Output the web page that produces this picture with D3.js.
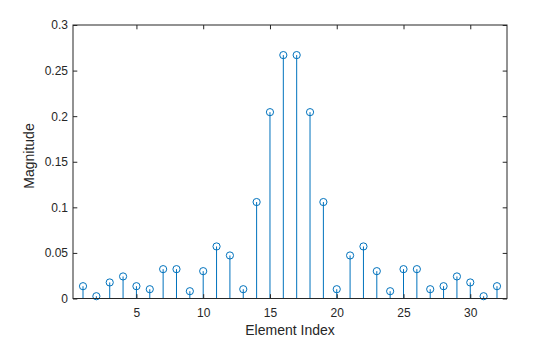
<!DOCTYPE html>
<html>
<head>
<meta charset="utf-8">
<script src="https://cdn.jsdelivr.net/npm/d3@7"></script>
<style>
  html, body { margin: 0; padding: 0; background: #fff; }
  svg { display: block; }
  text { font-family: "Liberation Sans", Arial, Helvetica, sans-serif; fill: #262626; }
</style>
</head>
<body>
<script>
// Element indices and their magnitudes
const indices = d3.range(1, 33);
const magnitudes = [
  0.0135, 0.0025, 0.0176, 0.0242, 0.0135, 0.0102, 0.0322, 0.0322,
  0.0080, 0.0300, 0.0571, 0.0472, 0.0102, 0.1058, 0.2044, 0.2670,
  0.2670, 0.2044, 0.1058, 0.0102, 0.0472, 0.0571, 0.0300, 0.0080,
  0.0322, 0.0322, 0.0102, 0.0135, 0.0242, 0.0176, 0.0025, 0.0135
];
const xTicks = [5, 10, 15, 20, 25, 30];
const yTicks = [0, 0.05, 0.1, 0.15, 0.2, 0.25, 0.3];
const xLabel = "Element Index";
const yLabel = "Magnitude";

const W = 560, H = 337;
const plotLeft = 73, plotRight = 507, plotTop = 25, plotBottom = 298.5;
const tickLen = 4.3;
const axisColor = "#262626";
const stemColor = "#0072BD";

const svg = d3.select("body").append("svg").attr("width", W).attr("height", H);

const x = d3.scaleLinear().domain([0.25, 32.75]).range([plotLeft, plotRight]);
const y = d3.scaleLinear().domain([0, 0.3]).range([plotBottom, plotTop]);

// stems
const g = svg.append("g");
g.selectAll("line.stem").data(indices).enter().append("line")
  .attr("class", "stem")
  .attr("x1", d => x(d)).attr("x2", d => x(d))
  .attr("y1", y(0)).attr("y2", (d, i) => y(magnitudes[i]))
  .attr("stroke", stemColor).attr("stroke-width", 1);

// markers
g.selectAll("circle").data(indices).enter().append("circle")
  .attr("cx", d => x(d)).attr("cy", (d, i) => y(magnitudes[i]))
  .attr("r", 3.6)
  .attr("fill", "none").attr("stroke", stemColor).attr("stroke-width", 1);

// axes (ticks pointing inward)
const fmt = d => d === 0 ? "0" : String(+d.toFixed(2));
const xAxis = svg.append("g").attr("transform", `translate(0,${plotBottom})`)
  .call(d3.axisBottom(x).tickValues(xTicks).tickSize(-tickLen).tickPadding(10).tickFormat(d3.format("d")));
const yAxis = svg.append("g").attr("transform", `translate(${plotLeft},0)`)
  .call(d3.axisLeft(y).tickValues(yTicks).tickSize(-tickLen).tickPadding(5).tickFormat(fmt));
const xTop = svg.append("g").attr("transform", `translate(0,${plotTop})`)
  .call(d3.axisTop(x).tickValues(xTicks).tickSize(-tickLen).tickFormat(""));
const yRight = svg.append("g").attr("transform", `translate(${plotRight},0)`)
  .call(d3.axisRight(y).tickValues(yTicks).tickSize(-tickLen).tickFormat(""));

[xAxis, yAxis, xTop, yRight].forEach(a => {
  a.select(".domain").remove();
  a.selectAll("line").attr("stroke", axisColor).attr("stroke-width", 1);
  a.selectAll("text").attr("font-size", 12).style("fill", axisColor)
    .attr("font-family", "'Liberation Sans', Arial, sans-serif");
});

// box
svg.append("rect")
  .attr("x", plotLeft).attr("y", plotTop)
  .attr("width", plotRight - plotLeft).attr("height", plotBottom - plotTop)
  .attr("fill", "none").attr("stroke", axisColor).attr("stroke-width", 1);

// axis labels
svg.append("text")
  .attr("x", (plotLeft + plotRight) / 2).attr("y", 334.5)
  .attr("text-anchor", "middle").attr("font-size", 14)
  .text(xLabel);
svg.append("text")
  .attr("transform", `translate(34,156) rotate(-90)`)
  .attr("text-anchor", "middle").attr("font-size", 14)
  .text(yLabel);
</script>
</body>
</html>
